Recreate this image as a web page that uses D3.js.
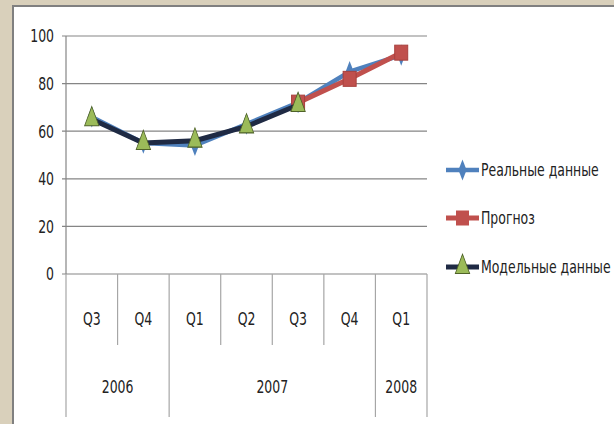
<!DOCTYPE html>
<html><head><meta charset="utf-8">
<script src="https://cdnjs.cloudflare.com/ajax/libs/d3/7.8.5/d3.min.js"></script>
<style>
body{margin:0;background:#d9d0bb;}
svg{display:block;}
text{font-family:"DejaVu Sans","Open Sans",sans-serif;font-stretch:condensed;fill:#222;}
</style></head><body>
<svg id="c" width="614" height="424"></svg>
<script>
const quarters = ["Q3","Q4","Q1","Q2","Q3","Q4","Q1"];
const years = [{label:"2006", span:2},{label:"2007", span:4},{label:"2008", span:1}];
const realData = [66, 55, 54, 63, 72, 85, 92];
const forecast = [null, null, null, null, 72, 82, 93];
const modelData = [65, 55, 56, 62, 71, null, null];
const yTicks = [0, 20, 40, 60, 80, 100];
const seriesNames = ["Реальные данные", "Прогноз", "Модельные данные"];

const svg = d3.select("#c");
svg.append("rect").attr("x",0).attr("y",0).attr("width",614).attr("height",424).attr("fill","#d9d0bb");
svg.append("rect").attr("x",12).attr("y",5).attr("width",602).attr("height",419).attr("fill","#808080");
svg.append("rect").attr("x",14).attr("y",7).attr("width",600).attr("height",417).attr("fill","#ffffff");

const SX = 0.77, FS = 18;
function txt(sel, x, yy, s, anchor){
  return sel.append("text").attr("transform",`translate(${x},${yy}) scale(${SX},1)`)
    .attr("dy","0.35em").attr("text-anchor",anchor||"start").attr("font-size",FS).text(s);
}

const x0 = 66, x1 = 427;
const y = d3.scaleLinear().domain([0,100]).range([274,36]);
const idx = d3.range(quarters.length);
const xb = d3.scaleBand().domain(idx).range([x0,x1]).padding(0);
const xc = i => xb(i) + xb.bandwidth()/2;

const g = svg.append("g");
g.selectAll("line.grid").data(yTicks).join("line")
 .attr("x1",62).attr("x2",x1).attr("y1",d=>y(d)).attr("y2",d=>y(d))
 .attr("stroke","#858585").attr("stroke-width",1.2);
yTicks.forEach(d=>txt(g,54,y(d),String(d),"end"));
g.append("line").attr("x1",x0).attr("x2",x0).attr("y1",36).attr("y2",274).attr("stroke","#858585").attr("stroke-width",1.2);

const yearBounds = [0];
years.reduce((a,yv)=>{a+=yv.span; yearBounds.push(a); return a;},0);
for(let i=0;i<=quarters.length;i++){
  const xx = i===quarters.length ? x1 : xb(i);
  const isYear = yearBounds.includes(i);
  g.append("line").attr("x1",xx).attr("x2",xx).attr("y1",274).attr("y2", isYear?417:345)
   .attr("stroke","#a6a6a6").attr("stroke-width",1.2);
}
quarters.forEach((q,i)=>txt(g,xc(i),319,q,"middle"));
years.forEach((yv,k)=>{
  const a = xb(yearBounds[k]);
  const b = yearBounds[k+1]===quarters.length ? x1 : xb(yearBounds[k+1]);
  txt(g,(a+b)/2,387,yv.label,"middle");
});

const line = d3.line().defined(d=>d.v!=null).x(d=>xc(d.i)).y(d=>y(d.v));
const toPts = arr => arr.map((v,i)=>({i,v}));
const colors = {real:"#4f81bd", fc:"#c0504d", model:"#1f2a44", tri:"#9bbb59"};

svg.append("path").datum(toPts(realData)).attr("d",line).attr("fill","none")
 .attr("stroke",colors.real).attr("stroke-width",4.5).attr("stroke-linejoin","round");
const diamond = d3.symbol().type(d3.symbolDiamond).size(90);
svg.selectAll("path.rd").data(toPts(realData).filter(d=>d.v!=null)).join("path")
 .attr("transform",d=>`translate(${xc(d.i)},${y(d.v)}) scale(0.8,1.2)`).attr("d",diamond).attr("fill",colors.real);

svg.append("path").datum(toPts(forecast)).attr("d",line).attr("fill","none")
 .attr("stroke",colors.fc).attr("stroke-width",5).attr("stroke-linejoin","round");
svg.selectAll("rect.fc").data(toPts(forecast).filter(d=>d.v!=null)).join("rect")
 .attr("x",d=>xc(d.i)-6.5).attr("y",d=>y(d.v)-7.5).attr("width",13).attr("height",15)
 .attr("fill",colors.fc).attr("stroke","#a8403d").attr("stroke-width",1);

svg.append("path").datum(toPts(modelData)).attr("d",line).attr("fill","none")
 .attr("stroke",colors.model).attr("stroke-width",5).attr("stroke-linejoin","round");
const tri = d3.symbol().type(d3.symbolTriangle).size(110);
svg.selectAll("path.md").data(toPts(modelData).filter(d=>d.v!=null)).join("path")
 .attr("transform",d=>`translate(${xc(d.i)},${y(d.v)}) scale(0.9,1.4)`).attr("d",tri)
 .attr("fill",colors.tri).attr("stroke","#4f6228").attr("stroke-width",0.8);

const legY = [170, 218, 267];
const lg = svg.append("g");
lg.append("line").attr("x1",446).attr("x2",479).attr("y1",legY[0]).attr("y2",legY[0]).attr("stroke",colors.real).attr("stroke-width",4.5);
lg.append("path").attr("transform",`translate(462.5,${legY[0]}) scale(0.8,1.2)`).attr("d",diamond).attr("fill",colors.real);
lg.append("line").attr("x1",446).attr("x2",479).attr("y1",legY[1]).attr("y2",legY[1]).attr("stroke",colors.fc).attr("stroke-width",5);
lg.append("rect").attr("x",456).attr("y",legY[1]-7.5).attr("width",13).attr("height",15).attr("fill",colors.fc);
lg.append("line").attr("x1",446).attr("x2",479).attr("y1",legY[2]).attr("y2",legY[2]).attr("stroke",colors.model).attr("stroke-width",5);
lg.append("path").attr("transform",`translate(462.5,${legY[2]}) scale(0.9,1.4)`).attr("d",tri).attr("fill",colors.tri).attr("stroke","#4f6228").attr("stroke-width",0.8);
seriesNames.forEach((s,i)=>txt(lg,481,legY[i],s,"start"));
</script>
</body></html>
